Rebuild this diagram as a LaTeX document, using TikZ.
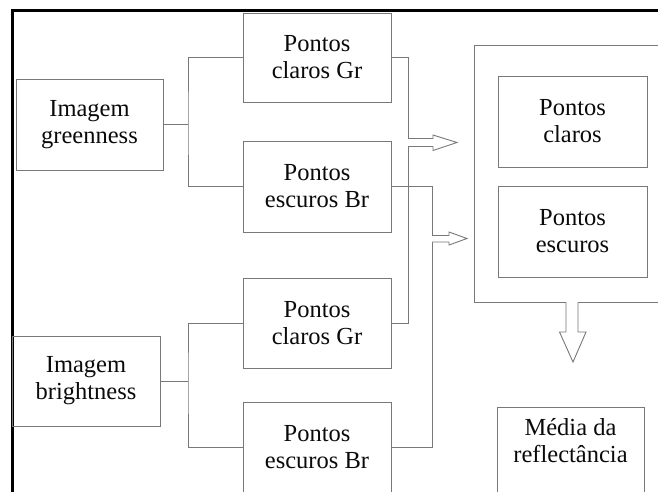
\documentclass[tikz,border=0pt]{standalone}
\usepackage{fontspec}
\setmainfont{Liberation Serif}
\begin{document}
\begin{tikzpicture}[x=1pt,y=-1pt,
  ln/.style={draw=lgray,line width=0.9pt},
  bx/.style={ln,rectangle,minimum width=148pt,minimum height=90pt,inner sep=0pt,align=center,
     font=\fontsize{24.5}{27}\selectfont,text=txt},
  txtnode/.style={inner sep=0pt,align=center,font=\fontsize{24.5}{27}\selectfont,text=txt},
  harrow/.style={ln,fill=white,line join=miter}]
\definecolor{lgray}{RGB}{120,120,120}
\definecolor{txt}{RGB}{10,10,10}
\useasboundingbox (0,0) rectangle (658,492);
\clip (0,0) rectangle (658,492);
% outer frame
\draw[line width=3pt,black] (12,10.5) rectangle (720,600);
% left column
\node[bx,minimum width=147pt,minimum height=91pt] (g) at (89.5,124.5) {Imagem\\greenness};
\node[bx,minimum width=148pt,minimum height=90pt] (b) at (86,381) {Imagem\\brightness};
% middle column
\node[bx,minimum height=89pt] (cg) at (317,57.5) {Pontos\\claros Gr};
\node[bx,minimum height=91pt] (eg) at (317,186.5) {Pontos\\escuros Br};
\node[bx] (cb) at (317,323) {Pontos\\claros Gr};
\node[bx] (eb) at (317,447) {Pontos\\escuros Br};
% connectors left
\coordinate (j1) at (188,124.5);
\coordinate (j2) at (188,381);
\draw[ln] (g.east) -- (j1);
\draw[ln] (cg.west) -| (j1) |- (eg.west);
\draw[ln] (b.east) -- (j2);
\draw[ln] (cb.west) -| (j2) |- (eb.west);
% connectors right
\coordinate (r1) at (408,57.5);
\coordinate (r2) at (432,186.5);
\draw[ln] (cg.east) -- (r1) |- (cb.east);
\draw[ln] (eg.east) -- (r2) |- (eb.east);
% right group
\node[ln,rectangle,minimum width=246pt,minimum height=257pt,inner sep=0pt] (grp) at (597,173.5) {};
\node[bx,minimum width=149pt,minimum height=91pt] (pc) at (572.5,121.5) {Pontos\\claros};
\node[bx,minimum width=149pt,minimum height=91pt] (pe) at (572.5,231.5) {Pontos\\escuros};
% media
\node[bx,minimum width=147pt] (mb) at (570.5,452) {};
\node[txtnode] (mt) at (570.5,441) {Média da\\reflectância};
% hollow arrows
\draw[harrow] (408,138.5) -- (433,138.5) -- (433,135) -- (457,142.5) -- (433,150.5) -- (433,146.5) -- (408,146.5);
\draw[harrow] (432,235.5) -- (449,235.5) -- (449,232) -- (467,238.5) -- (449,245) -- (449,242) -- (432,242);
\draw[harrow] (566,302) -- (566,332) -- (559.5,332) -- (573,362) -- (586,332) -- (578,332) -- (578,302);
\end{tikzpicture}
\end{document}
